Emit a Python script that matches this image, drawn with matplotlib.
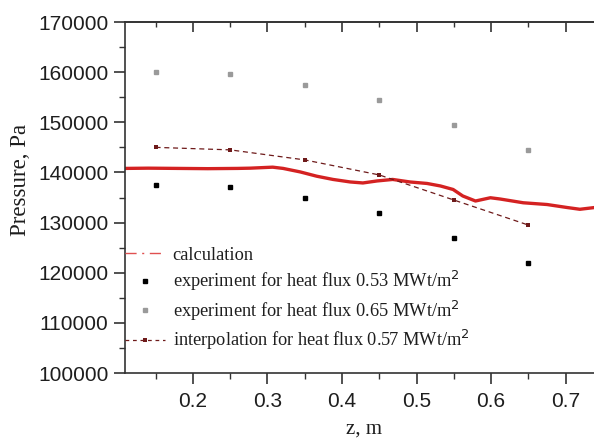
import matplotlib.pyplot as plt
from matplotlib.lines import Line2D
from matplotlib.ticker import MultipleLocator

# calculation curve
z_calc = [0.109, 0.14, 0.18, 0.22, 0.26, 0.277, 0.307, 0.321, 0.344, 0.366,
          0.388, 0.411, 0.428, 0.447, 0.468, 0.491, 0.514, 0.532, 0.549, 0.555,
          0.562, 0.579, 0.599, 0.612, 0.643, 0.675, 0.702, 0.719, 0.75]
p_calc = [140800, 140850, 140800, 140750, 140800, 140850, 141050, 140800, 140100, 139250,
          138600, 138100, 137900, 138300, 138600, 138100, 137800, 137300, 136600, 136000,
          135300, 134300, 134950, 134700, 133950, 133600, 133000, 132650, 133200]

z_exp = [0.15, 0.25, 0.35, 0.45, 0.55, 0.65]
p_053 = [137500, 137000, 135000, 132000, 127000, 122000]
p_065 = [160000, 159600, 157500, 154500, 149500, 144500]
p_057 = [145000, 144500, 142500, 139500, 134500, 129500]

labels = ["calculation",
          "experiment for heat flux 0.53 MWt/m$^2$",
          "experiment for heat flux 0.65 MWt/m$^2$",
          "interpolation for heat flux 0.57 MWt/m$^2$"]

fig = plt.figure(figsize=(5.94, 4.4), dpi=100)
ax = fig.add_axes([125/594, 67/440, 478/594, 351/440])

ax.plot(z_calc, p_calc, color="#d42222", lw=2.4, solid_capstyle="round")
ax.plot(z_exp, p_053, "s", color="black", ms=3.3, ls="none")
ax.plot(z_exp, p_065, "s", color="#9a9a9a", ms=3.3, ls="none")
ax.plot(z_exp, p_057, "s--", color="#6e1a1a", ms=3.3, lw=0.9,
        dashes=(4, 3), markeredgewidth=0)

ax.set_xlim(0.109, 0.75)
ax.set_ylim(100000, 170000)

ax.xaxis.set_major_locator(MultipleLocator(0.1))
ax.xaxis.set_minor_locator(MultipleLocator(0.05))
ax.yaxis.set_major_locator(MultipleLocator(10000))
ax.yaxis.set_minor_locator(MultipleLocator(5000))

for s in ax.spines.values():
    s.set_linewidth(1.2)
    s.set_color("#333333")
ax.spines["right"].set_visible(False)

ax.tick_params(which="major", direction="out", length=8, width=1.2, color="#333333",
               labelsize=15, labelcolor="#1e1e1e")
ax.tick_params(which="minor", direction="out", length=4, width=1.0, color="#333333")
ax.tick_params(axis="x", pad=6)
ax.tick_params(axis="y", pad=4)
for lab in ax.get_xticklabels() + ax.get_yticklabels():
    lab.set_fontfamily("Liberation Sans")

top = ax.secondary_xaxis("top")
top.xaxis.set_major_locator(MultipleLocator(0.1))
top.xaxis.set_minor_locator(MultipleLocator(0.05))
top.tick_params(which="major", direction="in", length=7, width=1.2, color="#333333",
                labeltop=False)
top.tick_params(which="minor", direction="in", length=3.5, width=1.0, color="#333333")
top.spines["top"].set_linewidth(1.2)
top.spines["top"].set_color("#333333")

ax.set_ylabel("Pressure, Pa", fontfamily="Liberation Serif", fontsize=16.5,
              color="#1e1e1e")
ax.yaxis.set_label_coords(-0.197, 0.55)
ax.set_xlabel("z, m", fontfamily="Liberation Serif", fontsize=15, color="#1e1e1e")
ax.xaxis.set_label_coords(0.5, -0.132)

handles = [
    Line2D([], [], color="#e05050", lw=1.0, ls="-.", dashes=(8, 4, 1.5, 4)),
    Line2D([], [], color="black", marker="s", ms=3.3, ls="none"),
    Line2D([], [], color="#9a9a9a", marker="s", ms=3.3, ls="none"),
    Line2D([], [], color="#6e1a1a", marker="s", ms=3.3, lw=0.9, ls="--",
           dashes=(3, 3), markeredgewidth=0),
]
ax.legend(handles, labels, loc="upper left", bbox_to_anchor=(0.0, 0.36),
          frameon=False, prop={"family": "Liberation Serif", "size": 13.2},
          handlelength=2.2, handletextpad=0.4, labelspacing=0.3,
          borderaxespad=0, borderpad=0, labelcolor="#1e1e1e")

fig.savefig("out.png", dpi=100)
